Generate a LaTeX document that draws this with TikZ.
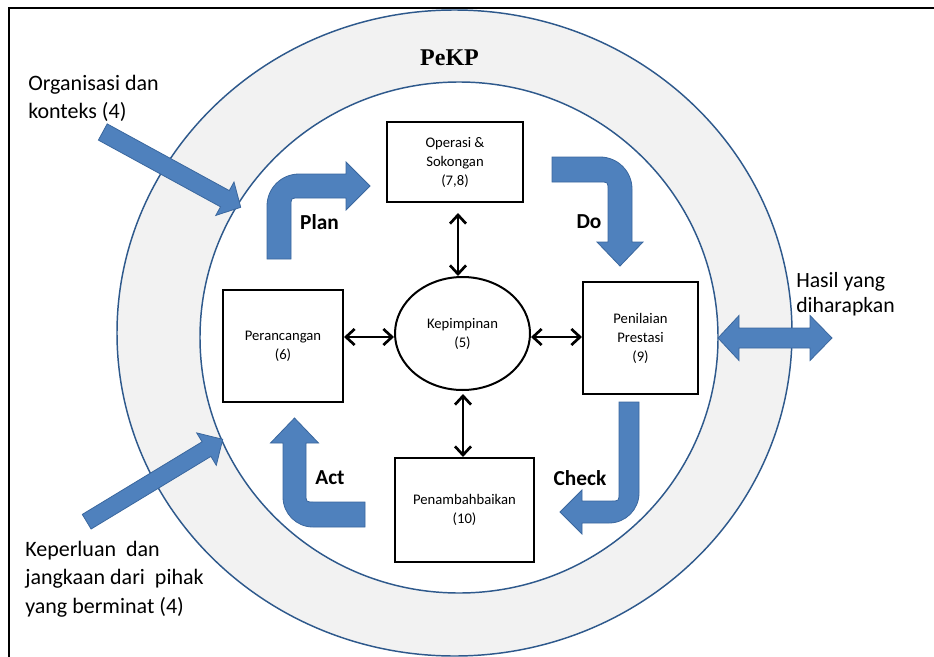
\documentclass[tikz,border=0pt]{standalone}
\usepackage{fontspec}
\setmainfont{Carlito}
\newfontfamily\serifb{Liberation Serif}
\usetikzlibrary{arrows.meta,calc,shapes.geometric}
\definecolor{ringfill}{HTML}{F2F2F2}
\definecolor{ringline}{RGB}{46,89,140}
\definecolor{bluefill}{HTML}{4F81BD}
\definecolor{blueline}{HTML}{3A679E}
\begin{document}
\begin{tikzpicture}[x=0.75pt,y=-0.75pt,
  box/.style={draw=black,line width=1.5pt,fill=white,align=center,inner sep=0pt,font=\fontsize{11}{14.25}\selectfont},
  oval/.style={ellipse,draw=black,line width=1.5pt,fill=white,align=center,inner sep=0pt,font=\fontsize{11}{14.25}\selectfont},
  dbl/.style={line width=2pt,{Straight Barb[length=6.5pt,width=12pt]}-{Straight Barb[length=6.5pt,width=12pt]}},
  blk/.style={fill=bluefill,draw=blueline,line width=0.6pt},
  lbl/.style={font=\fontsize{16}{19}\selectfont\bfseries,inner sep=0pt},
  side/.style={align=left,inner sep=0pt,anchor=west},
]
\useasboundingbox (0,0) rectangle (934,656);
\clip (0,0) rectangle (934,656);
% frame
\draw[line width=1.5pt] (9,700) -- (9,8) -- (950,8);
% ring
\fill[ringfill,even odd rule] (454.5,333) ellipse[x radius=253.125pt,y radius=242.25pt]
  (459,337.5) ellipse[x radius=194.25pt,y radius=191.625pt];
\draw[ringline,line width=1.1pt] (454.5,333) ellipse[x radius=253.125pt,y radius=242.25pt];
\draw[ringline,line width=1.1pt] (459,337.5) ellipse[x radius=194.25pt,y radius=191.625pt];
\node[font=\serifb\fontsize{18}{20}\selectfont\bfseries,inner sep=0pt] (pekp) at (449.5,58) {PeKP};
% boxes
\node[box,minimum width=102pt,minimum height=60pt] (op) at (455,162) {Operasi \&\\Sokongan\\(7,8)};
\node[box,minimum width=90pt,minimum height=84pt] (pr) at (283,346) {Perancangan\\(6)};
\node[box,minimum width=86.25pt,minimum height=84pt] (pe) at (640.5,338) {Penilaian\\Prestasi\\(9)};
\node[box,minimum width=104.25pt,minimum height=78pt] (pb) at (464.5,510) {Penambahbaikan\\(10)};
\node[oval,minimum width=101.25pt,minimum height=84.75pt] (kp) at (462.5,333.5) {Kepimpinan\\(5)};
% connectors
\coordinate (t1) at ($(op.south)+(3,10)$);
\draw[dbl] (t1) -- (t1 |- kp.north);
\draw[dbl] (pr.east |- 0,337) -- (kp.west |- 0,337);
\draw[dbl] (kp.east |- 0,337) -- (pe.west |- 0,337);
\coordinate (t4) at ($(kp.south)+(0.5,3)$);
\draw[dbl] (t4) -- (t4 |- pb.north);
% blue arrows
\draw[blk] (107.2,123.9) -- (229.3,190.6) -- (234.0,182.0) -- (240.7,207.3) -- (215.8,215.4) -- (220.5,206.8) -- (98.4,140.1) -- cycle;
\draw[blk] (91.1,529.0) -- (210.9,456.4) -- (216.3,465.3) -- (222.7,439.3) -- (196.7,432.9) -- (202.1,441.8) -- (82.3,514.4) -- cycle;
\draw[blk] (718,338) -- (739,315.5) -- (739,328) -- (810,328) -- (810,315.5) -- (832,338) -- (810,360.5) -- (810,348) -- (739,348) -- (739,360.5) -- cycle;
% Plan
\draw[blk] (267,259) -- (267,206) .. controls (267,188.3) and (281.3,174) .. (299,174) -- (346,174) -- (346,162) -- (370,186) -- (346,210) -- (346,198) -- (299,198) .. controls (291,198) .. (291,206) -- (291,259) -- cycle;
% Do
\draw[blk] (552,157) -- (600,157) .. controls (617.7,157) and (632,171.3) .. (632,189) -- (632,242) -- (643,242) -- (620,266) -- (597,242) -- (608,242) -- (608,190) .. controls (608,182) .. (600,182) -- (552,182) -- cycle;
% Check
\draw[blk] (619,402) -- (639,402) -- (639,493) .. controls (639,509.6) and (625.6,523) .. (609,523) -- (582,523) -- (582,534) -- (560,512) -- (582,490) -- (582,501) -- (611,501) .. controls (619,501) .. (619,493) -- cycle;
% Act
\draw[blk] (365,502) -- (314,502) .. controls (306,502) .. (306,494) -- (306,443) -- (318.5,443) -- (294.5,418) -- (270.5,443) -- (283,443) -- (283,497) .. controls (283,513.6) and (296.4,527) .. (313,527) -- (365,527) -- cycle;
% labels
\node[lbl] (plan) at (319.5,222) {Plan};
\node[lbl] (do) at (589,222) {Do};
\node[lbl] (act) at (330,478) {Act};
\node[lbl] (check) at (580,478) {Check};
% side texts
\node[side,font=\fontsize{16.5}{20.7}\selectfont] (org) at (28,98.5) {Organisasi dan\\konteks (4)};
\node[side,font=\fontsize{16.5}{21.2}\selectfont] (kep) at (25,579) {Keperluan\ \ dan\\jangkaan dari\ \ pihak\\yang berminat (4)};
\node[side,font=\fontsize{16.3}{18.75}\selectfont] (has) at (796,294) {Hasil yang\\diharapkan};
\end{tikzpicture}
\end{document}
